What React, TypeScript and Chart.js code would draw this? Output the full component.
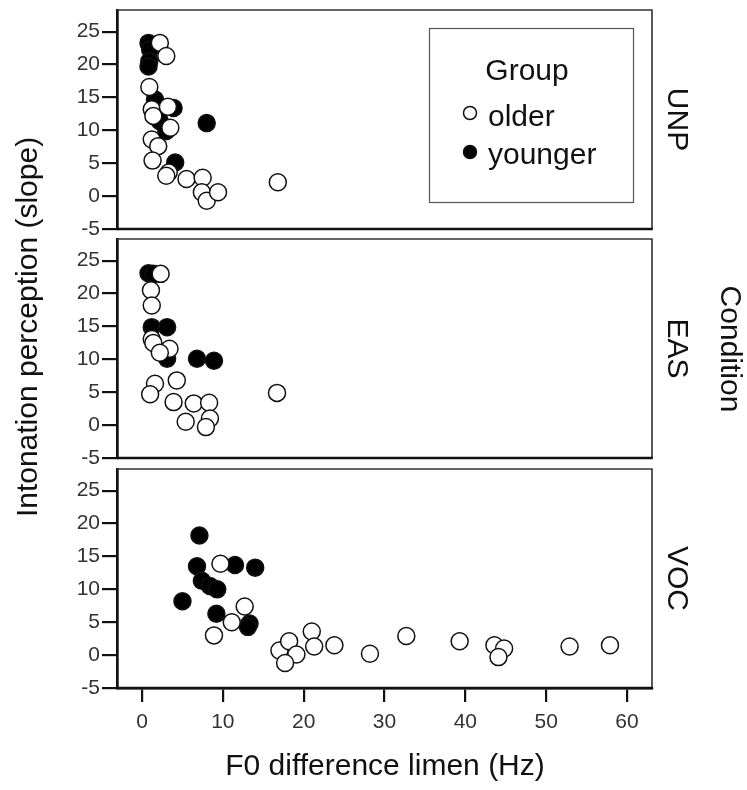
import React, { useEffect, useRef } from 'react';
import { Chart, registerables } from 'chart.js';
Chart.register(...registerables);

// ---- data ----
const conditions = ['UNP', 'EAS', 'VOC'];
const groups = ['older', 'younger'];
const xTicks = [0, 10, 20, 30, 40, 50, 60];
const yTicks = [-5, 0, 5, 10, 15, 20, 25];

const unpOlder: [number, number][] = [
  [2.2, 23.3], [3.0, 21.3], [0.9, 16.6], [1.2, 13.2], [1.4, 12.2], [3.2, 13.6], [3.5, 10.4],
  [1.2, 8.6], [2.0, 7.6], [1.3, 5.4], [3.3, 3.6], [3.0, 3.1], [5.5, 2.6], [7.5, 2.8],
  [7.4, 0.6], [8.0, -0.7], [9.4, 0.6], [16.8, 2.1],
];
const unpYounger: [number, number][] = [
  [0.8, 23.3], [1.0, 22.3], [0.9, 20.5], [0.8, 19.7], [1.6, 14.7], [3.9, 13.4],
  [2.2, 11.4], [3.0, 9.9], [8.0, 11.1], [4.1, 5.1],
];
const easOlder: [number, number][] = [
  [2.3, 23.0], [1.1, 20.5], [1.2, 18.2], [1.2, 13.1], [1.4, 12.5], [3.4, 11.6], [2.2, 11.0],
  [4.3, 6.8], [1.6, 6.3], [1.0, 4.7], [3.9, 3.5], [6.4, 3.3], [8.3, 3.4], [5.4, 0.5],
  [8.4, 1.0], [7.9, -0.3], [16.7, 4.9],
];
const easYounger: [number, number][] = [
  [0.8, 23.1], [1.4, 23.0], [1.2, 14.9], [3.1, 14.9], [2.8, 10.9], [3.1, 10.1],
  [6.8, 10.1], [8.9, 9.8],
];
const vocOlder: [number, number][] = [
  [9.7, 13.9], [12.7, 7.4], [11.1, 5.0], [8.9, 3.0], [17.0, 0.7], [18.2, 2.1], [19.1, 0.1],
  [17.7, -1.2], [21.0, 3.6], [21.3, 1.3], [23.8, 1.5], [28.2, 0.2], [32.7, 2.9], [39.3, 2.1],
  [43.6, 1.5], [44.8, 1.0], [44.1, -0.3], [52.9, 1.3], [57.9, 1.5],
];
const vocYounger: [number, number][] = [
  [7.1, 18.2], [6.8, 13.5], [11.5, 13.7], [14.0, 13.3], [7.4, 11.3], [8.4, 10.5],
  [9.3, 10.0], [5.0, 8.2], [9.2, 6.3], [13.3, 4.8], [13.1, 4.3],
];
const panelData = [
  [unpOlder, unpYounger],
  [easOlder, easYounger],
  [vocOlder, vocYounger],
];

// ---- layout ----
const W = 747;
const H = 790;
const LEFT = 117;
const RIGHT = 652;
const TOPS = [10, 239, 469];
const BOTTOMS = [229, 458, 688];
const XAXIS_H = 60;
const X_MIN = -3.1;
const X_MAX = 63.1;
const Y_MIN = -5;
const Y_MAX = 28.3;

const TITLE_FONT = "30px 'Liberation Sans', Arial, sans-serif";
const TICK_FONT_FAMILY = "'Liberation Sans', Arial, sans-serif";

function makePlugin(idx: number) {
  return {
    id: 'panelDecor' + idx,
    afterDraw(chart: any) {
      const ctx = chart.ctx as CanvasRenderingContext2D;
      const a = chart.chartArea;
      ctx.save();
      // frame top & right
      ctx.strokeStyle = '#333';
      ctx.lineWidth = 1.6;
      ctx.beginPath();
      ctx.moveTo(a.left, a.top);
      ctx.lineTo(a.right, a.top);
      ctx.lineTo(a.right, a.bottom);
      ctx.stroke();
      // bottom (thick)
      ctx.strokeStyle = '#111';
      ctx.lineWidth = 2.5;
      ctx.beginPath();
      ctx.moveTo(a.left, a.bottom);
      ctx.lineTo(a.right + 0.8, a.bottom);
      ctx.stroke();

      // condition label
      ctx.fillStyle = '#111';
      ctx.font = TITLE_FONT;
      ctx.textAlign = 'center';
      ctx.textBaseline = 'middle';
      ctx.save();
      ctx.translate(676, (a.top + a.bottom) / 2);
      ctx.rotate(Math.PI / 2);
      ctx.fillText(conditions[idx], 0, 0);
      ctx.restore();

      if (idx === 0) {
        // legend
        ctx.strokeStyle = '#555';
        ctx.lineWidth = 1.2;
        ctx.strokeRect(429.5, 28.5, 204, 174);
        ctx.fillStyle = '#111';
        ctx.textAlign = 'center';
        ctx.fillText('Group', 527, 72);
        ctx.textAlign = 'left';
        ctx.fillText(groups[0], 488, 118);
        ctx.fillText(groups[1], 488, 156);
        ctx.lineWidth = 1.5;
        ctx.strokeStyle = '#111';
        ctx.beginPath();
        ctx.arc(470, 113, 6.5, 0, Math.PI * 2);
        ctx.fillStyle = '#fff';
        ctx.fill();
        ctx.stroke();
        ctx.beginPath();
        ctx.arc(470, 152, 6.5, 0, Math.PI * 2);
        ctx.fillStyle = '#000';
        ctx.fill();
        ctx.stroke();

        // global titles
        ctx.fillStyle = '#111';
        ctx.textAlign = 'center';
        ctx.save();
        ctx.translate(29, 327);
        ctx.rotate(-Math.PI / 2);
        ctx.fillText('Intonation perception (slope)', 0, 0);
        ctx.restore();
        ctx.save();
        ctx.translate(729, (TOPS[0] + BOTTOMS[2]) / 2);
        ctx.rotate(Math.PI / 2);
        ctx.fillText('Condition', 0, 0);
        ctx.restore();
        ctx.fillText('F0 difference limen (Hz)', 385, 767);
      }
      ctx.restore();
    },
  };
}

function Panel({ idx }: { idx: number }) {
  const ref = useRef<HTMLCanvasElement | null>(null);
  useEffect(() => {
    if (!ref.current) return;
    const isLast = idx === 2;
    const [older, younger] = panelData[idx];
    const tickFont = { family: TICK_FONT_FAMILY, size: 21 };
    const chart = new Chart(ref.current, {
      type: 'scatter',
      data: {
        datasets: [
          {
            label: groups[0],
            data: older.map(([x, y]) => ({ x, y })),
            pointRadius: 8.5,
            pointBorderWidth: 1.5,
            pointBorderColor: '#111',
            pointBackgroundColor: '#fff',
          },
          {
            label: groups[1],
            data: younger.map(([x, y]) => ({ x, y })),
            pointRadius: 8.5,
            pointBorderWidth: 1.5,
            pointBorderColor: '#111',
            pointBackgroundColor: '#000',
          },
        ],
      },
      options: {
        responsive: false,
        animation: false,
        devicePixelRatio: 1,
        clip: false as any,
        layout: {
          padding: {
            left: 0,
            right: W - RIGHT,
            top: TOPS[idx],
            bottom: isLast ? H - BOTTOMS[idx] - XAXIS_H : H - BOTTOMS[idx],
          },
        },
        plugins: { legend: { display: false }, tooltip: { enabled: false } },
        scales: {
          x: {
            type: 'linear',
            min: X_MIN,
            max: X_MAX,
            display: isLast,
            position: 'bottom',
            afterBuildTicks: (s: any) => {
              s.ticks = xTicks.map((v) => ({ value: v }));
            },
            afterFit: (s: any) => {
              s.height = isLast ? XAXIS_H : 0;
              s.paddingLeft = 0;
              s.paddingRight = 0;
            },
            grid: { drawOnChartArea: false, drawTicks: true, tickLength: 14, color: '#111', lineWidth: 2.2 },
            border: { display: true, color: '#111', width: 2.5 },
            ticks: { padding: 8, font: tickFont, color: '#333', maxRotation: 0, autoSkip: false },
          },
          y: {
            type: 'linear',
            min: Y_MIN,
            max: Y_MAX,
            afterBuildTicks: (s: any) => {
              s.ticks = yTicks.map((v) => ({ value: v }));
            },
            afterFit: (s: any) => {
              s.width = LEFT;
              s.paddingTop = 0;
              s.paddingBottom = 0;
            },
            grid: { drawOnChartArea: false, drawTicks: true, tickLength: 15, color: '#111', lineWidth: 2.2 },
            border: { display: true, color: '#111', width: 2.7 },
            ticks: { padding: 2, font: tickFont, color: '#333', autoSkip: false },
          },
        },
      } as any,
      plugins: [makePlugin(idx)],
    });
    return () => chart.destroy();
  }, [idx]);
  return (
    <canvas
      ref={ref}
      width={W}
      height={H}
      style={{ position: 'absolute', left: 0, top: 0, width: W, height: H }}
    />
  );
}

export default function App() {
  return (
    <div style={{ position: 'fixed', left: 0, top: 0, width: W, height: H, background: '#fff' }}>
      {[0, 1, 2].map((i) => (
        <Panel key={i} idx={i} />
      ))}
    </div>
  );
}
